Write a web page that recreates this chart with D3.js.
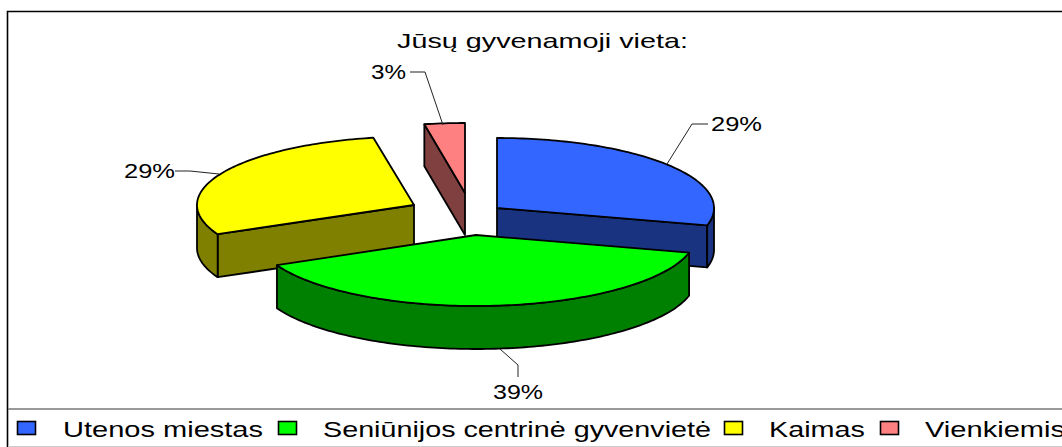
<!DOCTYPE html>
<html lang="lt">
<head>
<meta charset="utf-8">
<title>Jūsų gyvenamoji vieta</title>
<script src="https://cdn.jsdelivr.net/npm/d3@7"></script>
<style>
html,body{margin:0;padding:0;background:#fff;overflow:hidden}
svg{display:block}
text{font-family:"Liberation Sans",Arial,sans-serif;fill:#000}
</style>
</head>
<body>
<svg id="chart" width="1062" height="447"></svg>
<script>
const categories = ["Utenos miestas", "Seniūnijos centrinė gyvenvietė", "Kaimas", "Vienkiemis"];
const shares = [29, 39, 29, 3];
const valueLabels = ["29%", "39%", "29%", "3%"];
const chartTitle = "Jūsų gyvenamoji vieta:";

const topColors = ["#3366ff", "#00ff00", "#ffff00", "#ff8080"];
const sideColors = ["#1a3380", "#008000", "#808000", "#804040"];

// layout
const sliceCentres = [[497, 208], [476, 235], [414, 205], [465, 193]];
const sliceRadiusX = [217, 220, 217, 217];
const sliceRadiusY = [70, 71, 68.5, 70];
const sliceDepth = [42, 43, 43, 42];
const drawOrder = [2, 3, 0, 1];
const labelLayout = [
  {x: 711, y: 131, w: 51, leader: [[708, 124], [692, 124], [667, 164]]},
  {x: 493, y: 399, w: 50, leader: [[500, 349], [518, 365], [518, 377]]},
  {x: 124, y: 178, w: 51, leader: [[175, 171], [190, 171], [219, 174]]},
  {x: 371, y: 79, w: 35, leader: [[410, 72], [425, 72], [443, 125]]}
];
const legendSwatchX = [17, 278, 724, 880];
const legendTextX = [63, 323, 769, 925];
const legendTextW = [200, 388, 96, 140];

const svg = d3.select("#chart");
const pie = d3.pie().sort(null).value(d => d)(shares);
const TAU = Math.PI * 2;
const line = d3.line();

function pt(i, a, dy) {
  const c = sliceCentres[i];
  return [c[0] + sliceRadiusX[i] * Math.sin(a), c[1] - sliceRadiusY[i] * Math.cos(a) + (dy || 0)];
}
function arcPts(i, a0, a1, dy) {
  const n = Math.max(2, Math.ceil((a1 - a0) / 0.02));
  return d3.range(n + 1).map(k => pt(i, a0 + (a1 - a0) * k / n, dy));
}
const faceStyle = sel => sel.attr("stroke", "#000").attr("stroke-width", 1.8).attr("stroke-linejoin", "round");

// frame
svg.append("path").attr("d", "M1062,11.5H7.5V447").attr("fill", "none").attr("stroke", "#000").attr("stroke-width", 1.6);
svg.append("line").attr("x1", 8).attr("x2", 1062).attr("y1", 409).attr("y2", 409).attr("stroke", "#777").attr("stroke-width", 1.4);
svg.append("line").attr("x1", 8).attr("x2", 1062).attr("y1", 446.5).attr("y2", 446.5).attr("stroke", "#ccc").attr("stroke-width", 1);

// title
svg.append("text").attr("x", 397).attr("y", 48).attr("font-size", 21)
  .attr("textLength", 291).attr("lengthAdjust", "spacingAndGlyphs").text(chartTitle);

// slices
drawOrder.forEach(i => {
  const s = pie[i], c = sliceCentres[i], a0 = s.startAngle, a1 = s.endAngle, depth = sliceDepth[i];
  const g = svg.append("g");
  // cut faces
  const faceAngles = [];
  if (a0 > Math.PI && a0 < TAU) faceAngles.push(a0);
  if (a1 > 0 && a1 < Math.PI) faceAngles.push(a1);
  faceAngles.forEach(a => {
    const p = pt(i, a);
    g.append("path").attr("d", line([c, p, [p[0], p[1] + depth], [c[0], c[1] + depth]]) + "Z")
      .attr("fill", sideColors[i]).call(faceStyle);
  });
  // outer wall (front half of the rim)
  const w0 = Math.max(a0, Math.PI / 2), w1 = Math.min(a1, Math.PI * 1.5);
  if (w1 > w0) {
    const pts = arcPts(i, w0, w1).concat(arcPts(i, w0, w1, depth).reverse());
    g.append("path").attr("d", line(pts) + "Z").attr("fill", sideColors[i]).call(faceStyle);
  }
  // top face
  g.append("path").attr("d", line([c].concat(arcPts(i, a0, a1))) + "Z")
    .attr("fill", topColors[i]).call(faceStyle);
});

// value labels and leaders
valueLabels.forEach((t, i) => {
  const l = labelLayout[i];
  svg.append("path").attr("d", line(l.leader)).attr("fill", "none").attr("stroke", "#222").attr("stroke-width", 1);
  svg.append("text").attr("x", l.x).attr("y", l.y).attr("font-size", 20.5)
    .attr("textLength", l.w).attr("lengthAdjust", "spacingAndGlyphs").text(t);
});

// legend
categories.forEach((t, i) => {
  svg.append("rect").attr("x", legendSwatchX[i] + 0.5).attr("y", 421.5).attr("width", 18).attr("height", 13)
    .attr("fill", topColors[i]).attr("stroke", "#000").attr("stroke-width", 1.6);
  svg.append("text").attr("x", legendTextX[i]).attr("y", 436.5).attr("font-size", 22)
    .attr("textLength", legendTextW[i]).attr("lengthAdjust", "spacingAndGlyphs").text(t);
});
</script>
</body>
</html>
